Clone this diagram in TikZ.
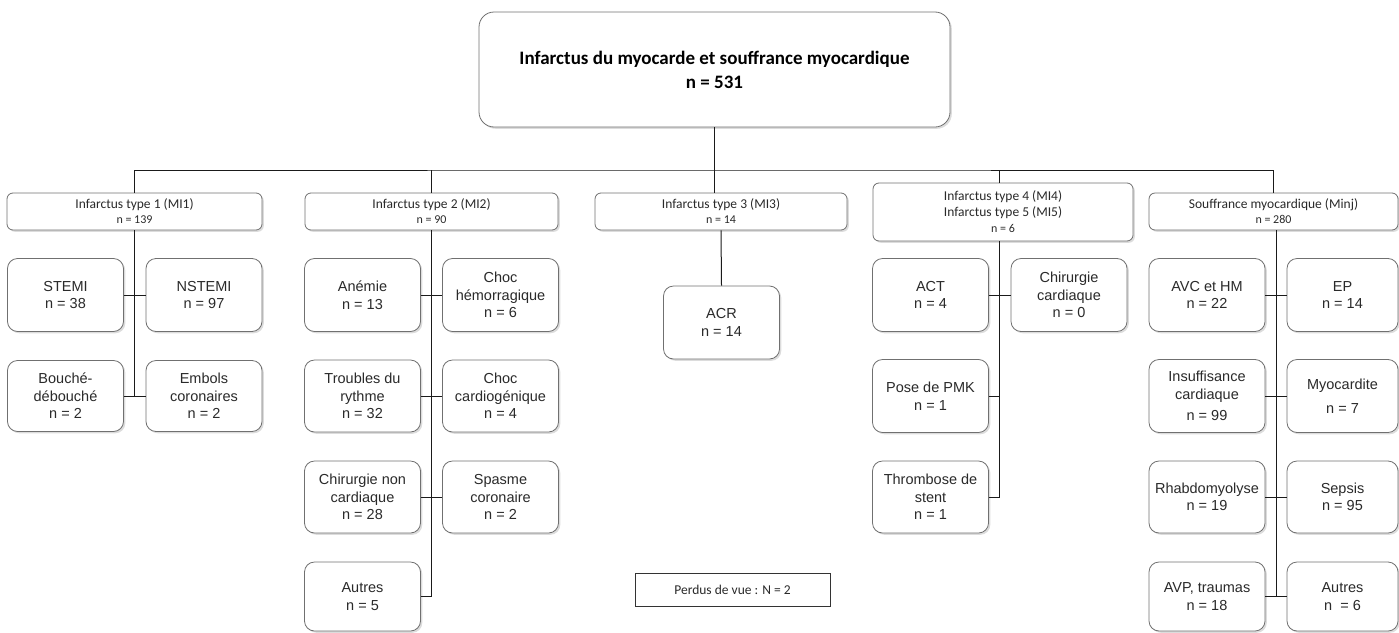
\documentclass[tikz,border=0pt]{standalone}
\usepackage{fontspec}
\setmainfont{Liberation Sans}
\newfontfamily\calfont{Carlito}
\usetikzlibrary{shadows,calc}
\definecolor{boxgray}{HTML}{707070}
\definecolor{txtgray}{HTML}{2A2A2A}
\definecolor{linegray}{HTML}{1A1A1A}
\begin{document}
\begin{tikzpicture}[x=1pt,y=-1pt,
  shad/.style={drop shadow={opacity=0.28, shadow xshift=1.8pt, shadow yshift=-1.8pt}},
  leaf/.style={draw=boxgray, line width=0.8pt, rounded corners=10pt, fill=white,
    minimum width=116pt, minimum height=73pt, align=center, inner sep=1pt,
    text=txtgray, font=\fontsize{14.5}{17.5}\selectfont, shad},
  head/.style={draw=boxgray, line width=0.8pt, rounded corners=6pt, fill=white,
    minimum height=37pt, align=center, inner sep=1pt, text=txtgray,
    font=\calfont\fontsize{13.5}{15}\selectfont, shad},
  conn/.style={draw=linegray, line width=1pt}]
\useasboundingbox (0,0) rectangle (1399,632);
% top box
\node[draw=boxgray, line width=0.8pt, rounded corners=15pt, fill=white,
  minimum width=471pt, minimum height=115pt, align=center, text=black,
  font=\calfont\bfseries\fontsize{19}{24}\selectfont, shad]
  (top) at (714.5,69.5) {Infarctus du myocarde et souffrance myocardique\\n = 531};
% headers
\newcommand\nline[1]{{\fontsize{12}{15}\selectfont #1}}
\node[head, minimum width=255pt] (mi1) at (134.5,211.5) {Infarctus type 1 (MI1)\\\nline{n = 139}};
\node[head, minimum width=253pt] (mi2) at (431.5,211.5) {Infarctus type 2 (MI2)\\\nline{n = 90}};
\node[head, minimum width=252pt] (mi3) at (721,211.5) {Infarctus type 3 (MI3)\\\nline{n = 14}};
\node[head, minimum width=260pt, minimum height=58pt, font=\calfont\fontsize{13.5}{16}\selectfont] (mi4) at (1003,212) {Infarctus type 4 (MI4)\\Infarctus type 5 (MI5)\\\nline{n = 6}};
\node[head, minimum width=249pt] (minj) at (1273.5,211.5) {Souffrance myocardique (Minj)\\\nline{n = 280}};
% MI1 leaves
\node[leaf] (stemi) at (65.5,295) {STEMI\\n = 38};
\node[leaf] (nstemi) at (204,295) {NSTEMI\\n = 97};
\node[leaf, minimum height=71pt] (bouche) at (65.5,396) {Bouché-\\débouché\\n = 2};
\node[leaf, minimum height=71pt] (embols) at (204,396) {Embols\\coronaires\\n = 2};
% MI2 leaves
\node[leaf] (anemie) at (362.5,295) {Anémie\\n = 13};
\node[leaf] (chochem) at (500.5,295) {Choc\\hémorragique\\n = 6};
\node[leaf, minimum height=72pt] (troubles) at (362.5,396) {Troubles du\\rythme\\n = 32};
\node[leaf, minimum height=72pt] (choccard) at (500.5,396) {Choc\\cardiogénique\\n = 4};
\node[leaf, minimum height=72pt] (chirnc) at (362.5,497) {Chirurgie non\\cardiaque\\n = 28};
\node[leaf, minimum height=72pt] (spasme) at (500.5,497) {Spasme\\coronaire\\n = 2};
\node[leaf, minimum height=69pt] (autres2) at (362.5,596.5) {Autres\\n = 5};
% MI3 leaf
\node[leaf] (acr) at (721.5,322.5) {ACR\\n = 14};
% MI4 leaves
\node[leaf] (act) at (930.5,295) {ACT\\n = 4};
\node[leaf] (chircard) at (1069,295) {Chirurgie\\cardiaque\\n = 0};
\node[leaf] (pmk) at (930.5,396) {Pose de PMK\\n = 1};
\node[leaf, minimum height=72pt] (thromb) at (930.5,497) {Thrombose de\\stent\\n = 1};
% Minj leaves
\node[leaf] (avc) at (1207,295) {AVC et HM\\n = 22};
\node[leaf, minimum width=111pt] (ep) at (1342.5,295) {EP\\n = 14};
\node[leaf] (insuf) at (1207,396) {Insuffisance\\cardiaque\\[4pt]n = 99};
\node[leaf, minimum width=111pt] (myoc) at (1342.5,396) {Myocardite\\[6pt]n = 7};
\node[leaf, minimum height=72pt] (rhabdo) at (1207,497) {Rhabdomyolyse\\n = 19};
\node[leaf, minimum width=111pt, minimum height=72pt] (sepsis) at (1342.5,497) {Sepsis\\n = 95};
\node[leaf, minimum height=69pt] (avp) at (1207,596.5) {AVP, traumas\\n = 18};
\node[leaf, minimum width=111pt, minimum height=69pt] (autres5) at (1342.5,596.5) {Autres\\n\ \ = 6};
% lost to follow-up
\node[draw=black!80, line width=0.9pt, fill=white, minimum width=195pt, minimum height=33pt,
  text=txtgray, font=\calfont\fontsize{13.5}{15}\selectfont] (perdus) at (732.5,589.5) {Perdus de vue : N = 2};
% connectors
\coordinate (bus) at (714.5,170);
\draw[conn] (top.south) -- (top.south |- mi3.north);
\draw[conn] (mi1.north) |- (bus) -| (minj.north);
\draw[conn] (mi2.north) -- (mi2.north |- bus);
\coordinate (v4) at ($(act.east)!.5!(chircard.west)$);
\draw[conn] (v4 |- mi4.north) -- (v4 |- bus);
% MI1
\draw[conn] (mi1.south) -- (mi1.south |- bouche.east);
\draw[conn] (stemi.east) -- (nstemi.west);
\draw[conn] (bouche.east) -- (embols.west);
% MI2
\draw[conn] (mi2.south) -- (mi2.south |- autres2.east);
\draw[conn] (anemie.east) -- (chochem.west);
\draw[conn] (troubles.east) -- (choccard.west);
\draw[conn] (chirnc.east) -- (spasme.west);
\draw[conn] (autres2.east) -- (autres2.east -| mi2.south);
% MI3
\draw[conn] (mi3.south) -- (acr.north);
% MI4
\draw[conn] (v4 |- mi4.south) -- (v4 |- thromb.east);
\draw[conn] (act.east) -- (chircard.west);
\draw[conn] (pmk.east) -- (pmk.east -| v4);
\draw[conn] (thromb.east) -- (thromb.east -| v4);
% Minj
\coordinate (v5) at ($(avc.east)!.5!(ep.west)$);
\draw[conn] (v5 |- minj.south) -- (v5 |- avp.east);
\draw[conn] (avc.east) -- (ep.west);
\draw[conn] (insuf.east) -- (myoc.west);
\draw[conn] (rhabdo.east) -- (sepsis.west);
\draw[conn] (avp.east) -- (autres5.west);
\end{tikzpicture}
\end{document}
